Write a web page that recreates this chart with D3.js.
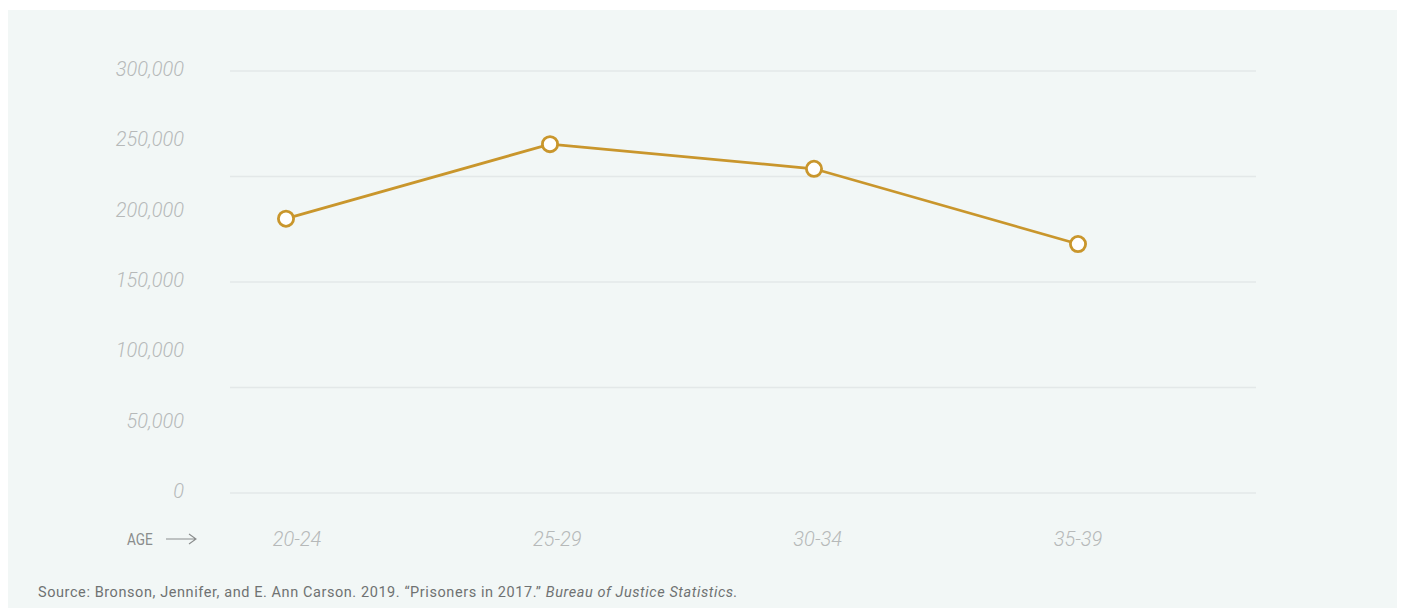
<!DOCTYPE html>
<html><head><meta charset="utf-8">
<script src="https://cdn.jsdelivr.net/npm/d3@7"></script>
<style>
html,body{margin:0;padding:0;background:#fff;}
svg{display:block;}
</style></head>
<body>
<svg id="chart" width="1401" height="613"></svg>
<script>
const categories = ["20-24", "25-29", "30-34", "35-39"];
const values = [195000, 248000, 230500, 177000];
const yLabelTicks = [0, 50000, 100000, 150000, 200000, 250000, 300000];
const gridTicks = [0, 75000, 150000, 225000, 300000];
const axisTitle = "AGE";
const sourceText = "Source: Bronson, Jennifer, and E. Ann Carson. 2019. \u201cPrisoners in 2017.\u201d ";
const sourceItalic = "Bureau of Justice Statistics.";

const svg = d3.select("#chart");
svg.append("rect").attr("x", 8).attr("y", 10).attr("width", 1389).attr("height", 598).attr("fill", "#f2f7f6");

const y = d3.scaleLinear().domain([0, 300000]).range([493, 71]);
const x = d3.scalePoint().domain(categories).range([286, 1078]);
const xLabel = d3.scalePoint().domain(categories).range([297, 1078]);

// gridlines
svg.append("g").selectAll("line").data(gridTicks).join("line")
  .attr("x1", 230).attr("x2", 1256)
  .attr("y1", d => y(d)).attr("y2", d => y(d))
  .attr("stroke", "#e3e8e8").attr("stroke-width", 1.3);

// y labels
const fmt = d3.format(",");
svg.append("g").selectAll("text").data(yLabelTicks).join("text")
  .attr("x", 184).attr("y", d => y(d) - 2)
  .attr("dy", "0.35em")
  .attr("text-anchor", "end")
  .attr("font-family", "Roboto, sans-serif").attr("font-weight", 300).attr("font-style", "italic")
  .attr("font-size", 20).attr("fill", "#b6b9b9")
  .text(d => fmt(d));

// x labels
svg.append("g").selectAll("text").data(categories).join("text")
  .attr("x", d => xLabel(d)).attr("y", 539)
  .attr("dy", "0.35em")
  .attr("text-anchor", "middle")
  .attr("font-family", "Roboto, sans-serif").attr("font-weight", 300).attr("font-style", "italic")
  .attr("font-size", 20).attr("fill", "#b6b9b9")
  .text(d => d);

// AGE ->
svg.append("text").attr("x", 127).attr("y", 539).attr("dy", "0.35em")
  .attr("font-family", "Roboto, sans-serif").attr("font-weight", 400)
  .attr("font-size", 16).attr("fill", "#8a8d8d")
  .attr("transform", "translate(127,0) scale(0.85,1) translate(-127,0)")
  .text(axisTitle);
svg.append("path").attr("d", "M166,539 H196 M189,534 L196,539 L189,544")
  .attr("fill", "none").attr("stroke", "#8a8d8d").attr("stroke-width", 1.1);

// line
const line = d3.line().x((d, i) => x(categories[i])).y(d => y(d));
svg.append("path").datum(values).attr("d", line)
  .attr("fill", "none").attr("stroke", "#c9962c").attr("stroke-width", 2.8);
svg.append("g").selectAll("circle").data(values).join("circle")
  .attr("cx", (d, i) => x(categories[i])).attr("cy", d => y(d)).attr("r", 7.6)
  .attr("fill", "#fff").attr("stroke", "#c9962c").attr("stroke-width", 2.8);

// source
const src = svg.append("text").attr("x", 38).attr("y", 597)
  .attr("font-family", "Roboto, sans-serif").attr("font-size", 14.5).attr("fill", "#6f7272");
src.append("tspan").text(sourceText);
src.append("tspan").attr("font-style", "italic").text(sourceItalic);
const w = src.node().getComputedTextLength();
const n = (sourceText + sourceItalic).length;
src.attr("letter-spacing", (700 - w) / n);
</script>
</body></html>
